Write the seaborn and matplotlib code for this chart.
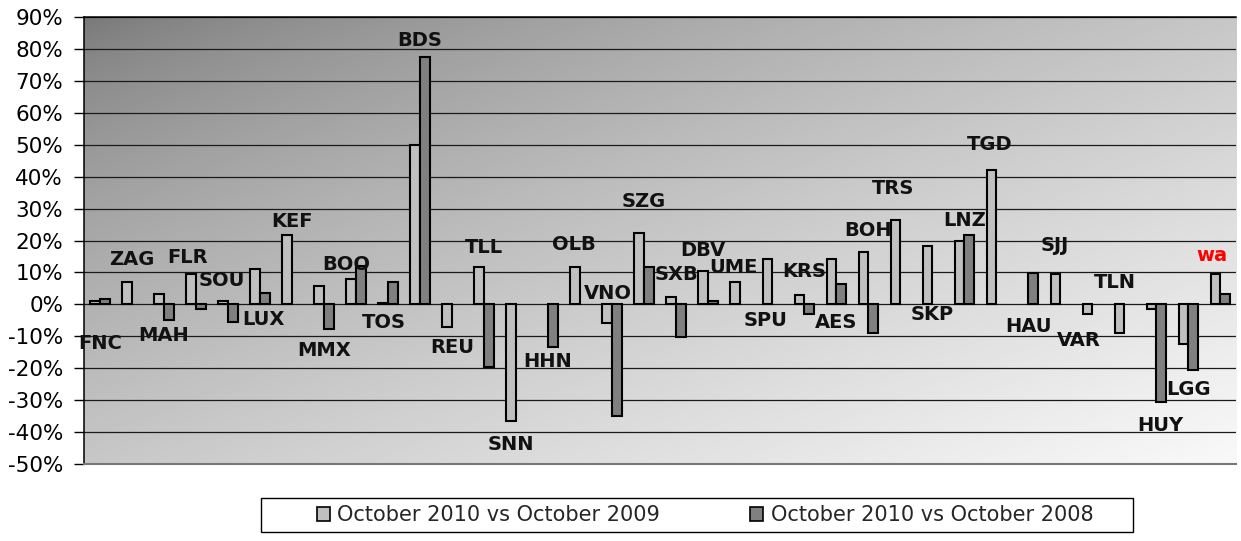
import numpy as np
import pandas as pd
import matplotlib
matplotlib.use("Agg")
import matplotlib.pyplot as plt
import seaborn as sns
from matplotlib.patches import Rectangle, Patch
from matplotlib.ticker import PercentFormatter, MultipleLocator

# Airport codes, in chart order
airports = ["FNC", "ZAG", "MAH", "FLR", "SOU", "LUX", "KEF", "MMX", "BOO", "TOS",
            "BDS", "REU", "TLL", "SNN", "HHN", "OLB", "VNO", "SZG", "SXB", "DBV",
            "UME", "SPU", "KRS", "AES", "BOH", "TRS", "SKP", "LNZ", "TGD", "HAU",
            "SJJ", "VAR", "TLN", "HUY", "LGG", "wa"]

# % change, October 2010 vs October 2009 (nan = no bar)
vs_2009 = [1.1, 7.0, 3.4, 9.4, 1.1, 11.2, 21.6, 5.8, 8.1, 0.4,
           49.9, -7.2, 11.7, -36.6, np.nan, 11.7, -5.9, 22.3, 2.3, 10.3,
           6.9, 14.1, 2.8, 14.1, 16.4, 26.3, 18.2, 19.9, 42.2, np.nan,
           9.4, -3.0, -8.9, -1.4, -12.4, 9.4]

# % change, October 2010 vs October 2008
vs_2008 = [1.8, np.nan, -4.9, -1.4, -5.5, 3.5, np.nan, -7.8, 11.9, 6.9,
           77.6, np.nan, -19.6, np.nan, -13.2, np.nan, -34.9, 11.7, -10.1, 1.0,
           np.nan, np.nan, -3.0, 6.5, -8.9, np.nan, np.nan, 21.6, np.nan, 9.9,
           np.nan, np.nan, np.nan, -30.7, -20.6, 3.4]

# where each airport code label sits on the value axis (%)
label_y = [-12.1, 14.2, -9.9, 14.8, 7.4, -4.6, 26.1, -14.6, 12.4, -5.8,
           82.8, -13.4, 17.7, -43.8, -18.0, 18.9, 3.5, 32.2, 9.5, 16.8,
           11.5, -5.1, 10.2, -5.8, 23.1, 36.4, -3.3, 26.2, 50.2, -7.0,
           18.3, -11.2, 6.8, -38.0, -26.6, 15.3]

# small sideways nudges of some labels (in category widths)
NUDGE = {"FLR": -0.28, "SOU": -0.19, "LUX": 0.1, "BOO": -0.31, "TOS": -0.12,
         "SNN": -0.16, "OLB": -0.19, "VNO": -0.12, "DBV": -0.16, "UME": -0.22,
         "SPU": -0.19, "TRS": -0.22, "TGD": -0.19, "SJJ": -0.16, "VAR": -0.41,
         "TLN": -0.28, "HUY": 0.12, "wa": -0.25}

S09 = "October 2010 vs October 2009"
S08 = "October 2010 vs October 2008"
COLORS = ["#c0c0c0", "#808080"]

n = len(airports)
df = pd.DataFrame({
    "airport": airports * 2,
    "change": np.array(vs_2009 + vs_2008, dtype=float) / 100,
    "series": [S09] * n + [S08] * n,
})

sns.set_theme(style="white")
plt.rcParams["font.family"] = ["DejaVu Sans"]
plt.rcParams["axes.unicode_minus"] = False

fig = plt.figure(figsize=(12.41, 5.41), dpi=100)
ax = fig.add_axes([0.0677, 0.1423, 0.9284, 0.8262])

# diagonal grey gradient in the plot area
W, H = 600, 300
xs = np.linspace(0, 1, W)[None, :]
ys = np.linspace(0, 1, H)[:, None]
t = ((xs + ys) / 2) ** 0.7
shade = 0.467 + (0.975 - 0.467) * t
ax.imshow(shade, cmap="gray", vmin=0, vmax=1, extent=[0, 1, 0, 1],
          transform=ax.transAxes, aspect="auto", zorder=0, interpolation="bilinear")

sns.barplot(data=df, x="airport", y="change", hue="series", order=airports,
            hue_order=[S09, S08], palette=COLORS, width=0.6, edgecolor="black",
            linewidth=1.5, errorbar=None, legend=False, ax=ax, zorder=3)

for i, (code, ly) in enumerate(zip(airports, label_y)):
    ax.text(i + NUDGE.get(code, 0), ly / 100, code, ha="center", va="center", fontsize=14,
            fontweight="bold", color="red" if code == "wa" else "#111111", zorder=4)

ax.set_xlim(-0.5, n - 0.5)
ax.set_ylim(-0.5, 0.9)
ax.yaxis.set_major_locator(MultipleLocator(0.1))
ax.yaxis.set_major_formatter(PercentFormatter(1.0, decimals=0))
ax.set_xticks([])
ax.set_xlabel("")
ax.set_ylabel("")
ax.tick_params(axis="y", which="major", left=True, length=7, width=1,
               color="black", labelsize=15.5, pad=8, labelcolor="black")

ax.set_axisbelow(True)
ax.yaxis.grid(True, color="#1a1a1a", linewidth=0.9)

for side in ["left", "top"]:
    ax.spines[side].set_color("black")
    ax.spines[side].set_linewidth(1.1)
ax.spines["bottom"].set_color("#777777")
ax.spines["bottom"].set_linewidth(1.5)
ax.spines["right"].set_visible(False)

# legend with its own box below the plot
handles = [Patch(facecolor=c, edgecolor="black", linewidth=1.2) for c in COLORS]
fig.legend(handles, [S09, S08], loc="center", bbox_to_anchor=(705 / 1241, 1 - 515 / 541),
           ncol=2, frameon=False, fontsize=15, handlelength=0.65, handleheight=0.65,
           handletextpad=0.35, columnspacing=4.3, borderpad=0)
fig.add_artist(Rectangle((261 / 1241, 9 / 541), 872 / 1241, 34 / 541,
                         transform=fig.transFigure, fill=False,
                         edgecolor="black", linewidth=1))

fig.savefig("out.png", dpi=100)
plt.close(fig)
